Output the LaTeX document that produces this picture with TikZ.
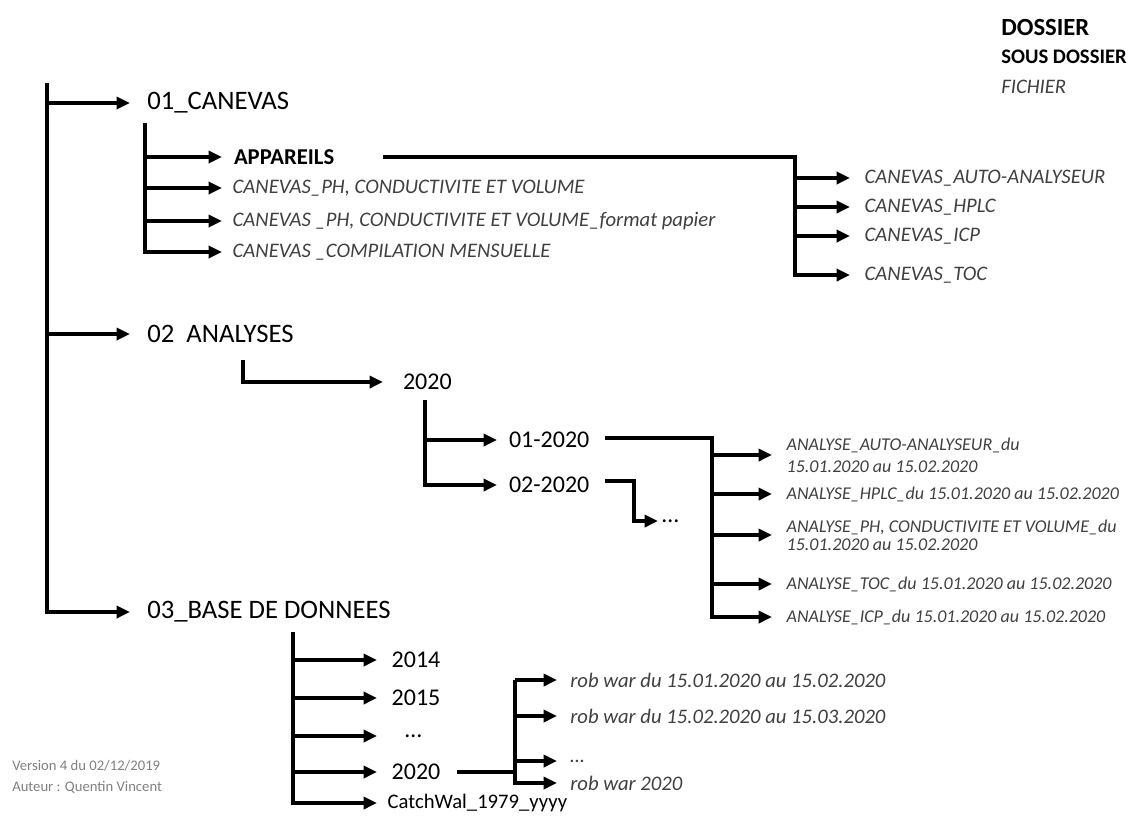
\documentclass[tikz,border=0pt]{standalone}
\usepackage{fontspec}
\setmainfont{Carlito}
\usepackage{tikz}
\usetikzlibrary{arrows.meta}
\usetikzlibrary{positioning,calc}
\definecolor{fichierGris}{HTML}{404040}
\definecolor{noteGris}{HTML}{808080}
\tikzset{dossier/.style={anchor=west,inner sep=0pt,outer xsep=13pt,font=\fontsize{20}{24}\selectfont},
		sousDossier/.style={anchor=west,inner sep=0pt,outer xsep=9pt,font=\fontsize{17}{20}\selectfont\bfseries},
		annee/.style={anchor=west,inner sep=0pt,outer xsep=11pt,font=\fontsize{18}{21}\selectfont},
		fichier/.style={anchor=west,inner sep=0pt,outer xsep=8pt,text=fichierGris,font=\fontsize{15.5}{18}\selectfont\itshape},
		fichierT/.style={fichier,outer xsep=11pt,font=\fontsize{13.5}{16.5}\selectfont\itshape},
		legende/.style={anchor=west,inner sep=0pt},
		note/.style={anchor=west,inner sep=0pt,text=noteGris,font=\fontsize{11}{13}\selectfont},
		trunk/.style={line width=3pt},
		Dedge/.style={-{Triangle[length=10pt,width=9pt]},line width=3pt},
		every node/.style={align=left}}

\begin{document}
\begin{tikzpicture}[x=0.75pt,y=-0.75pt]
	\useasboundingbox (0,0) rectangle (1130,821);
	%legend
	\coordinate (l1) at (0,27);
	\coordinate (l3) at (0,87);
	\node at (1127,57) [legende,anchor=east,font=\fontsize{15.5}{18}\selectfont\bfseries] (legSous){SOUS DOSSIER};
	\node at (legSous.west |- l1) [legende,font=\fontsize{18.5}{22}\selectfont\bfseries] (legDossier){DOSSIER};
	\node at (legSous.west |- l3) [legende,text=fichierGris,font=\fontsize{15.5}{18}\selectfont\itshape] (legFichier){FICHIER};

	%dossiers
	\coordinate (root) at (47,83);
	\node at (130,103) [dossier] (canevas){01\_CANEVAS};
	\node at (130,334) [dossier] (analyses){02\ \ ANALYSES};
	\node at (130,612) [dossier] (base){03\_BASE DE DONNEES};
	\draw (root |- canevas.west) edge[Dedge] (canevas.west);
	\draw (root |- analyses.west) edge[Dedge] (analyses.west);
	\draw[Dedge] (root) |- (base.west);

	%01 canevas
	\coordinate (c0) at (145,123);
	\node at (222,157) [sousDossier] (appareils){APPAREILS};
	\node at (222,188) [fichier] (cph){CANEVAS\_PH, CONDUCTIVITE ET VOLUME};
	\node at (222,221) [fichier] (cpap){CANEVAS \_PH, CONDUCTIVITE ET VOLUME\_format papier};
	\node at (222,252) [fichier] (ccomp){CANEVAS \_COMPILATION MENSUELLE};
	\draw (c0 |- appareils.west) edge[Dedge] (appareils.west);
	\draw (c0 |- cph.west) edge[Dedge] (cph.west);
	\draw (c0 |- cpap.west) edge[Dedge] (cpap.west);
	\draw[Dedge] (c0) |- (ccomp.west);

	\coordinate (a0) at (383,157);
	\coordinate (a1) at (795,157);
	\node at (850,178) [fichier,outer xsep=11pt] (cauto){CANEVAS\_AUTO-ANALYSEUR};
	\node at (850,207) [fichier,outer xsep=11pt] (chplc){CANEVAS\_HPLC};
	\node at (850,236) [fichier,outer xsep=11pt] (cicp){CANEVAS\_ICP};
	\node at (850,275) [fichier,outer xsep=11pt] (ctoc){CANEVAS\_TOC};
	\draw (a1 |- cauto.west) edge[Dedge] (cauto.west);
	\draw (a1 |- chplc.west) edge[Dedge] (chplc.west);
	\draw (a1 |- cicp.west) edge[Dedge] (cicp.west);
	\draw[Dedge] (a0) -- (a1) |- (ctoc.west);

	%02 analyses
	\coordinate (an0) at (243,360);
	\node at (383,382) [annee,outer xsep=15pt] (an2020){2020};
	\draw[Dedge] (an0) |- (an2020.west);
	\coordinate (y0) at (425,400);
	\node at (497,440) [annee,outer xsep=9pt] (m01){01-2020};
	\node at (497,485) [annee,outer xsep=9pt] (m02){02-2020};
	\draw (y0 |- m01.west) edge[Dedge] (m01.west);
	\draw[Dedge] (y0) |- (m02.west);

	\coordinate (m2a) at (605,481);
	\coordinate (m2b) at (634,481);
	\node at (658,521) [annee,outer xsep=3pt] (mdots){\ldots};
	\draw[Dedge] (m2a) -- (m2b) |- (mdots.west);

	\coordinate (m1a) at (605,438);
	\coordinate (m1b) at (712,438);
	\node at (772,455) [fichierT] (aauto){ANALYSE\_AUTO-ANALYSEUR\_du\\15.01.2020 au 15.02.2020};
	\node at (772,494) [fichierT] (ahplc){ANALYSE\_HPLC\_du 15.01.2020 au 15.02.2020};
	\node at (772,535) [fichierT] (aph){ANALYSE\_PH, CONDUCTIVITE ET VOLUME\_du\\[-3pt]15.01.2020 au 15.02.2020};
	\node at (772,584) [fichierT] (atoc){ANALYSE\_TOC\_du 15.01.2020 au 15.02.2020};
	\node at (772,617) [fichierT] (aicp){ANALYSE\_ICP\_du 15.01.2020 au 15.02.2020};
	\draw (m1b |- aauto.west) edge[Dedge] (aauto.west);
	\draw (m1b |- ahplc.west) edge[Dedge] (ahplc.west);
	\draw (m1b |- aph.west) edge[Dedge] (aph.west);
	\draw (m1b |- atoc.west) edge[Dedge] (atoc.west);
	\draw[Dedge] (m1a) -- (m1b) |- (aicp.west);

	%03 base de donnees
	\coordinate (b0) at (293,632);
	\node at (377,660) [annee] (b2014){2014};
	\node at (377,698) [annee] (b2015){2015};
	\node at (377,736) [annee,outer xsep=21pt] (bdots){\ldots};
	\node at (377,772) [annee] (b2020){2020};
	\node at (377,803) [annee,outer xsep=8pt,font=\fontsize{15.5}{18}\selectfont] (catch){CatchWal\_1979\_yyyy};
	\draw (b0 |- b2014.west) edge[Dedge] (b2014.west);
	\draw (b0 |- b2015.west) edge[Dedge] (b2015.west);
	\draw (b0 |- bdots.west) edge[Dedge] (bdots.west);
	\draw (b0 |- b2020.west) edge[Dedge] (b2020.west);
	\draw[Dedge] (b0) |- (catch.west);

	\coordinate (r0) at (457,772);
	\coordinate (r1) at (515,772);
	\node at (557,680) [fichier,outer xsep=10pt] (rob1){rob war du 15.01.2020 au 15.02.2020};
	\node at (557,716) [fichier,outer xsep=10pt] (rob2){rob war du 15.02.2020 au 15.03.2020};
	\node at (557,757) [fichier,outer xsep=10pt,yshift=-3pt] (rob3){\ldots};
	\node at (557,783) [fichier,outer xsep=10pt] (rob4){rob war 2020};
	\draw[trunk] (r0) -- (r1);
	\draw (r1 |- rob1.west) edge[Dedge] (rob1.west);
	\draw (r1 |- rob2.west) edge[Dedge] (rob2.west);
	\draw (r1 |- rob3.west) edge[Dedge] (rob3.west);
	\draw[Dedge] (r1 |- rob1.west) |- (rob4.west);

	%version
	\node at (12,766) [note] (version){Version 4 du 02/12/2019};
	\node at (12,787) [note] (auteur){Auteur : Quentin Vincent};
\end{tikzpicture}
\end{document}
